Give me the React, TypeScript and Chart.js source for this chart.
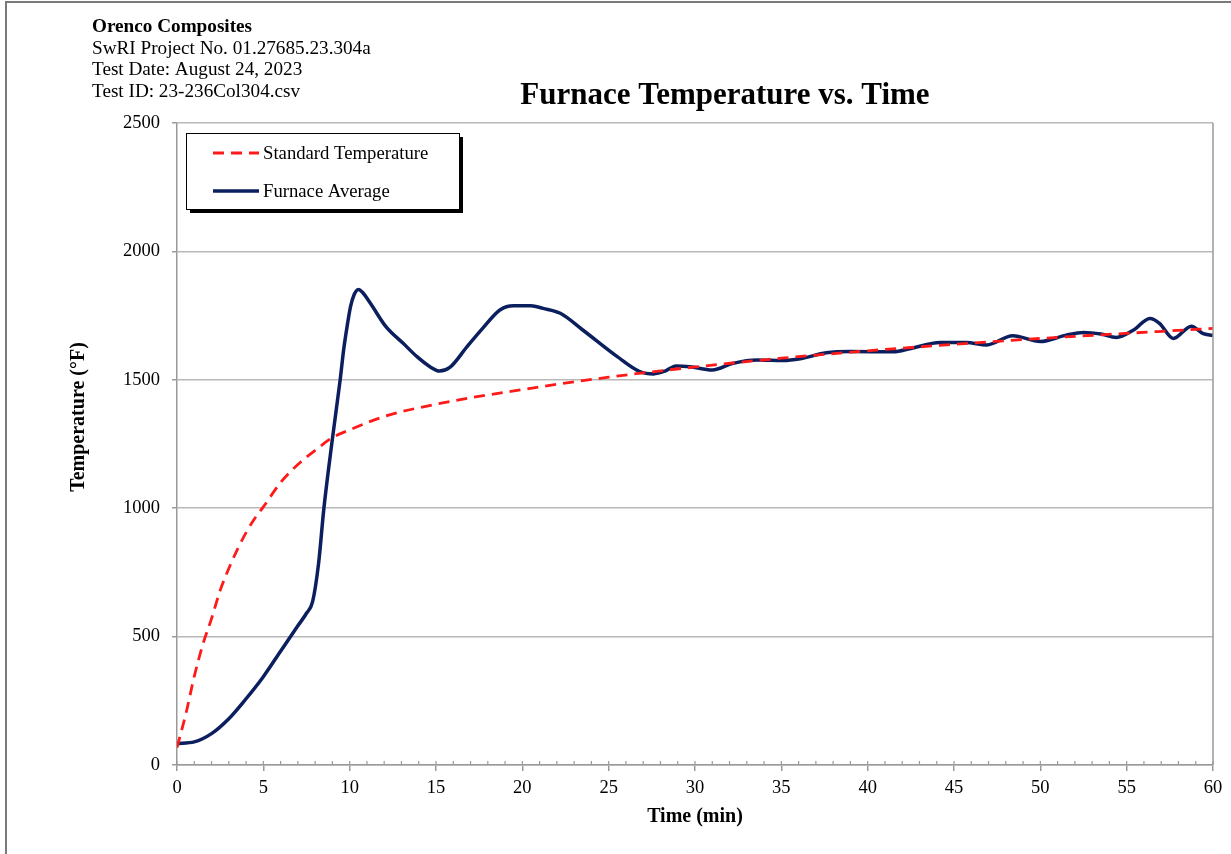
import { useEffect, useRef } from "react";
import { Chart, registerables } from "chart.js";

Chart.register(...registerables);

// Report header lines shown at the top left
const headerLines = [
  "Orenco Composites",
  "SwRI Project No. 01.27685.23.304a",
  "Test Date: August 24, 2023",
  "Test ID: 23-236Col304.csv",
];
const chartTitle = "Furnace Temperature vs. Time";
const xAxisTitle = "Time (min)";
const yAxisTitle = "Temperature (°F)";
const seriesNames = ["Standard Temperature", "Furnace Average"];

// Standard time-temperature curve (min, °F)
const standardTime = [0, 0.5, 1, 1.5, 2, 2.5, 3, 3.5, 4, 4.5, 5, 6, 7, 8, 9, 10, 12, 15, 20, 25, 30, 35, 40, 45, 50, 55, 60];
const standardTemp = [68, 195, 345, 470, 570, 680, 765, 840, 905, 960, 1005, 1100, 1170, 1225, 1275, 1305, 1357, 1405, 1462, 1510, 1550, 1584, 1613, 1638, 1661, 1681, 1700];

// Measured furnace average (min, °F)
const furnaceTime = [0, 1, 2, 3, 4, 5, 6, 7, 7.5, 7.85, 8.2, 8.5, 9.0, 9.45, 9.65, 9.85, 10.05, 10.25, 10.5, 10.75, 11.2, 12.1, 13.1, 13.9, 14.65, 15.2, 15.8, 16.8, 17.7, 18.7, 19.5, 20.5, 21.2, 22.2, 23.5, 25.5, 26.8, 27.6, 28.3, 28.9, 29.7, 31.0, 32.2, 33.6, 35.1, 36.1, 37.6, 39.0, 41.5, 42.5, 44.2, 45.7, 46.9, 48.4, 50.0, 51.5, 52.5, 53.5, 54.4, 55.4, 56.35, 56.9, 57.7, 58.75, 59.4, 60];
const furnaceTemp = [84, 90, 122, 180, 258, 344, 443, 542, 591, 635, 785, 995, 1270, 1500, 1616, 1707, 1785, 1830, 1852, 1840, 1798, 1707, 1642, 1590, 1551, 1534, 1548, 1629, 1700, 1772, 1788, 1788, 1778, 1759, 1694, 1590, 1532, 1523, 1535, 1554, 1551, 1538, 1564, 1577, 1575, 1582, 1605, 1610, 1609, 1622, 1645, 1645, 1636, 1672, 1649, 1674, 1684, 1678, 1665, 1694, 1739, 1720, 1661, 1709, 1681, 1672];

const X_MIN = 0;
const X_MAX = 60;
const X_STEP = 5;
const Y_MIN = 0;
const Y_MAX = 2500;
const Y_STEP = 500;

const SERIF = "'Liberation Serif', 'Times New Roman', serif";
const RED = "#ff1a1a";
const NAVY = "#0b1f5e";
const AXIS_GRAY = "#9a9a9a";
const GRID_GRAY = "#b8b8b8";

const decorations = {
  id: "reportDecorations",
  beforeDraw(chart: any) {
    const { ctx, width, height } = chart;
    ctx.save();
    ctx.fillStyle = "#ffffff";
    ctx.fillRect(0, 0, width, height);
    // page frame
    ctx.strokeStyle = "#7a7a7a";
    ctx.lineWidth = 2;
    ctx.beginPath();
    ctx.moveTo(6, height);
    ctx.lineTo(6, 2);
    ctx.lineTo(width, 2);
    ctx.stroke();
    ctx.restore();
  },
  afterDraw(chart: any) {
    const { ctx, chartArea } = chart;
    const xs = chart.scales.x;
    ctx.save();

    // right edge of the plot box
    ctx.strokeStyle = AXIS_GRAY;
    ctx.lineWidth = 1.5;
    ctx.beginPath();
    ctx.moveTo(chartArea.right, chartArea.top);
    ctx.lineTo(chartArea.right, chartArea.bottom);
    ctx.stroke();

    // minor ticks every minute, pointing into the plot
    ctx.lineWidth = 1.2;
    ctx.beginPath();
    for (let t = X_MIN; t <= X_MAX; t += 1) {
      const px = xs.getPixelForValue(t);
      ctx.moveTo(px, chartArea.bottom);
      ctx.lineTo(px, chartArea.bottom - 4);
    }
    ctx.stroke();

    // header block
    ctx.fillStyle = "#000";
    ctx.textAlign = "left";
    ctx.textBaseline = "alphabetic";
    headerLines.forEach((line, i) => {
      ctx.font = `${i === 0 ? "bold " : ""}19.2px ${SERIF}`;
      ctx.fillText(line, 92, 32 + i * 21.7);
    });

    // chart title
    ctx.font = `bold 31px ${SERIF}`;
    ctx.textAlign = "center";
    ctx.textBaseline = "middle";
    ctx.fillText(chartTitle, 725, 96);

    // axis titles
    ctx.font = `bold 20px ${SERIF}`;
    ctx.fillText(xAxisTitle, (chartArea.left + chartArea.right) / 2, 817);
    ctx.save();
    ctx.translate(79, 417);
    ctx.rotate(-Math.PI / 2);
    ctx.fillText(yAxisTitle, 0, 0);
    ctx.restore();

    // legend box with drop shadow
    const bx = 186, by = 133, bw = 273, bh = 76;
    ctx.fillStyle = "#000";
    ctx.fillRect(bx + 4, by + 4, bw, bh);
    ctx.fillStyle = "#fff";
    ctx.fillRect(bx, by, bw, bh);
    ctx.strokeStyle = "#000";
    ctx.lineWidth = 1;
    ctx.strokeRect(bx + 0.5, by + 0.5, bw, bh);

    const ds = chart.data.datasets;
    const rows = [153, 191];
    ds.forEach((d: any, i: number) => {
      ctx.strokeStyle = d.borderColor;
      ctx.lineWidth = d.borderWidth;
      ctx.setLineDash(d.borderDash || []);
      ctx.beginPath();
      ctx.moveTo(213, rows[i]);
      ctx.lineTo(259, rows[i]);
      ctx.stroke();
      ctx.setLineDash([]);
      ctx.fillStyle = "#000";
      ctx.font = `18.7px ${SERIF}`;
      ctx.textAlign = "left";
      ctx.textBaseline = "middle";
      ctx.fillText(d.label, 263, rows[i] + 1);
    });

    ctx.restore();
  },
};

export default function App() {
  const canvasRef = useRef<HTMLCanvasElement | null>(null);

  useEffect(() => {
    const canvas = canvasRef.current;
    if (!canvas) return;
    const chart = new Chart(canvas, {
      type: "line",
      data: {
        datasets: [
          {
            label: seriesNames[0],
            data: standardTime.map((t, i) => ({ x: t, y: standardTemp[i] })),
            borderColor: RED,
            borderWidth: 2.8,
            borderDash: [11, 7],
            pointRadius: 0,
            cubicInterpolationMode: "monotone",
            fill: false,
          },
          {
            label: seriesNames[1],
            data: furnaceTime.map((t, i) => ({ x: t, y: furnaceTemp[i] })),
            borderColor: NAVY,
            borderWidth: 3.5,
            pointRadius: 0,
            cubicInterpolationMode: "monotone",
            fill: false,
          },
        ],
      },
      options: {
        animation: false,
        responsive: false,
        devicePixelRatio: 1,
        layout: { padding: { top: 123, right: 18, left: 0, bottom: 0 } },
        plugins: {
          legend: { display: false },
          title: { display: false },
          tooltip: { enabled: false },
        },
        scales: {
          x: {
            type: "linear",
            min: X_MIN,
            max: X_MAX,
            afterFit: (s: any) => {
              s.height = 89;
            },
            ticks: {
              stepSize: X_STEP,
              color: "#000",
              font: { family: SERIF, size: 18.5 },
              padding: 6,
              maxRotation: 0,
              callback: (v: any) => String(v),
            },
            grid: {
              drawOnChartArea: false,
              drawTicks: true,
              tickLength: 6,
              color: AXIS_GRAY,
              lineWidth: 1.5,
            },
            border: { color: AXIS_GRAY, width: 1.5 },
          },
          y: {
            type: "linear",
            min: Y_MIN,
            max: Y_MAX,
            afterFit: (s: any) => {
              s.width = 177;
            },
            ticks: {
              stepSize: Y_STEP,
              color: "#000",
              font: { family: SERIF, size: 18.5 },
              padding: 12,
              callback: (v: any) => String(v),
            },
            grid: {
              color: GRID_GRAY,
              lineWidth: 1.5,
              tickLength: 5,
              tickColor: AXIS_GRAY,
            },
            border: { color: AXIS_GRAY, width: 1.5 },
          },
        },
      } as any,
      plugins: [decorations],
    });
    return () => chart.destroy();
  }, []);

  return (
    <div style={{ position: "fixed", left: 0, top: 0, width: 1231, height: 854, background: "#fff" }}>
      <canvas ref={canvasRef} width={1231} height={854} style={{ display: "block" }} />
    </div>
  );
}
